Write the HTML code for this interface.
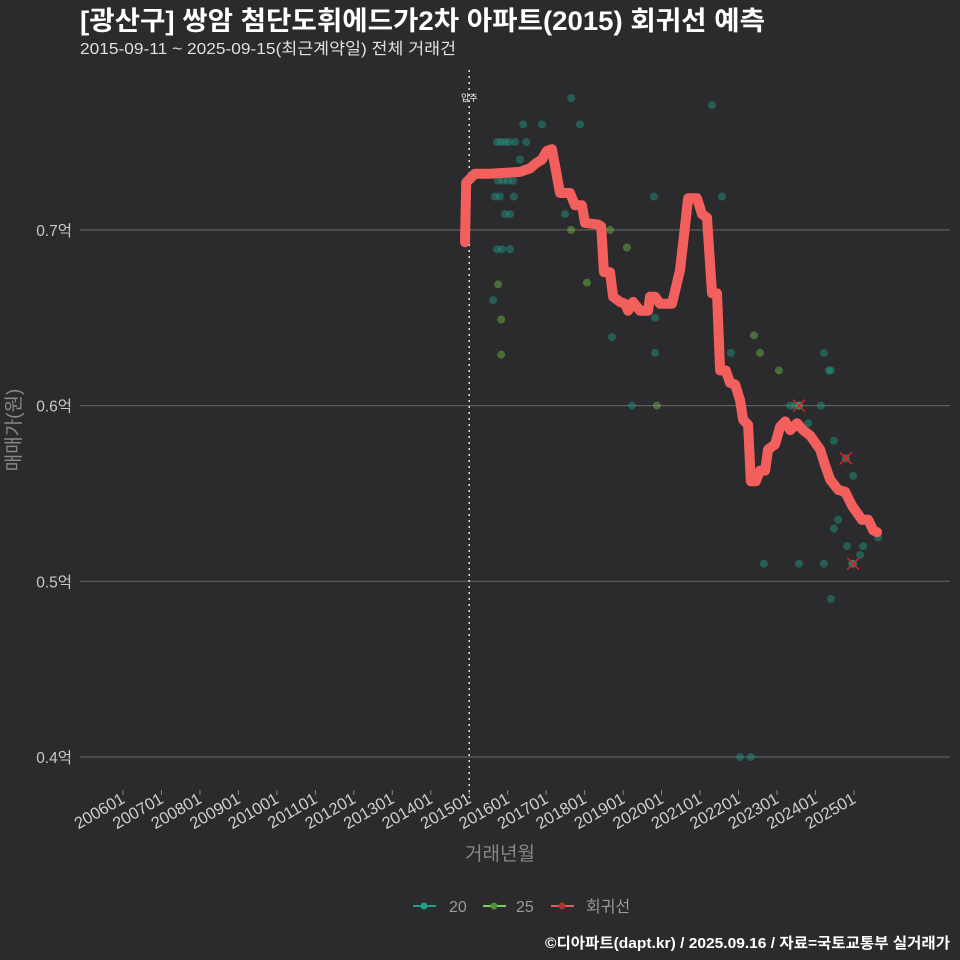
<!DOCTYPE html>
<html><head><meta charset="utf-8">
<style>
html,body{margin:0;padding:0;background:#2b2a2c;}
svg{display:block;font-family:"Liberation Sans","Noto Sans CJK KR",sans-serif;}
</style></head>
<body>
<svg id="chart" width="960" height="960" viewBox="0 0 960 960">
<rect width="960" height="960" fill="#2b2a2c"/>
<text x="80" y="30" fill="#ffffff" font-size="26.5" font-weight="bold" textLength="685" lengthAdjust="spacingAndGlyphs">[광산구] 쌍암 첨단도휘에드가2차 아파트(2015) 회귀선 예측</text>
<text x="80" y="54" fill="#e0e0e0" font-size="16" textLength="376" lengthAdjust="spacingAndGlyphs">2015-09-11 ~ 2025-09-15(최근계약일) 전체 거래건</text>
<g id="grid"></g>
<g id="xaxis"></g>
<g id="yaxis"></g>
<g id="marks"></g>
<text x="20" y="430" fill="#888" font-size="19" transform="rotate(-90 20 430)" text-anchor="middle">매매가(원)</text>
<text x="500" y="860" fill="#888" font-size="19" text-anchor="middle">거래년월</text>
<g>
<g><line x1="413" y1="906" x2="436" y2="906" stroke="#1f9e89" stroke-width="2"/><circle cx="424" cy="906" r="3.5" fill="#1f9e89"/><text x="449" y="912" fill="#999" font-size="16">20</text></g>
<g><line x1="483" y1="906" x2="506" y2="906" stroke="#7ad151" stroke-width="2"/><circle cx="494" cy="906" r="3.5" fill="#4f8f3f"/><text x="516" y="912" fill="#999" font-size="16">25</text></g>
<g><line x1="551" y1="906" x2="574" y2="906" stroke="#e65b5b" stroke-width="2"/><circle cx="562" cy="906" r="3.5" fill="#a33"/><text x="586" y="912" fill="#999" font-size="16">회귀선</text></g>
</g>
<text x="950" y="948" fill="#ffffff" font-size="15" font-weight="bold" text-anchor="end" textLength="405" lengthAdjust="spacingAndGlyphs">©디아파트(dapt.kr) / 2025.09.16 / 자료=국토교통부 실거래가</text>
</svg>
<script>
const xTickLabels=["200601","200701","200801","200901","201001","201101","201201","201301","201401","201501","201601","201701","201801","201901","202001","202101","202201","202301","202401","202501"];
const yTicks=[0.4,0.5,0.6,0.7];
const yTickLabels=["0.4억","0.5억","0.6억","0.7억"];
const lineYears=[2014.89,2014.92,2015.15,2015.54,2016.32,2016.58,2016.74,2016.89,2017.02,2017.15,2017.26,2017.36,2017.62,2017.75,2017.93,2018.01,2018.35,2018.43,2018.50,2018.66,2018.74,2018.92,2019.05,2019.13,2019.26,2019.44,2019.65,2019.70,2019.83,2019.96,2020.27,2020.48,2020.61,2020.69,2020.92,2021.05,2021.18,2021.31,2021.44,2021.52,2021.67,2021.78,2021.91,2022.04,2022.12,2022.25,2022.32,2022.45,2022.56,2022.69,2022.77,2022.95,2023.08,2023.21,2023.34,2023.52,2023.68,2023.86,2024.12,2024.25,2024.38,2024.59,2024.77,2024.95,2025.21,2025.37,2025.50,2025.60];
const lineValues=[.693,.727,.732,.732,.733,.735,.738,.740,.745,.746,.733,.721,.721,.714,.714,.704,.703,.702,.676,.676,.662,.659,.658,.654,.659,.654,.654,.662,.662,.658,.658,.677,.702,.718,.718,.709,.707,.664,.664,.620,.620,.613,.612,.603,.592,.589,.557,.557,.563,.563,.575,.578,.588,.591,.586,.590,.586,.583,.575,.566,.558,.552,.551,.543,.535,.535,.529,.528];
const s20Years=[2017.65,2016.40,2016.89,2017.88,2021.31,2015.72,2015.82,2015.93,2016.03,2016.19,2016.48,2016.32,2015.75,2015.88,2016.01,2016.14,2015.67,2015.80,2016.16,2019.80,2021.57,2015.93,2016.06,2017.49,2015.72,2015.85,2016.06,2018.71,2015.62,2019.83,2019.83,2019.23,2021.80,2024.22,2024.35,2024.40,2023.34,2023.47,2024.14,2023.81,2024.48,2024.98,2024.72,2024.59,2024.48,2024.82,2025.24,2025.16,2025.63,2022.66,2023.57,2024.22,2024.95,2024.40,2022.04,2022.32];
const s20Values=[.775,.760,.760,.760,.771,.750,.750,.750,.750,.750,.750,.740,.728,.728,.728,.728,.719,.719,.719,.719,.719,.709,.709,.709,.689,.689,.689,.639,.660,.650,.630,.600,.630,.630,.620,.620,.600,.600,.600,.590,.580,.560,.550,.535,.530,.520,.520,.515,.525,.510,.510,.510,.510,.490,.400,.400];
const s25Years=[2017.65,2015.75,2015.83,2015.83,2018.06,2019.10,2019.88,2022.40,2022.56,2023.05,2023.57,2018.66];
const s25Values=[.700,.669,.649,.629,.670,.690,.600,.640,.630,.620,.600,.700];
const outlierYears=[2023.57,2024.79,2024.98];
const outlierValues=[.600,.570,.510];
const moveInYear=2015.0;

const NS="http://www.w3.org/2000/svg";
const X0=123,PX_PER_YEAR=38.47,PLOT_L=80,PLOT_R=950;
function xScale(yr){return X0+(yr-2006)*PX_PER_YEAR;}
function yScale(v){return 757-(v-0.4)*1757;}
function mk(tag,attrs,parent){const e=document.createElementNS(NS,tag);for(const k in attrs)e.setAttribute(k,attrs[k]);parent.appendChild(e);return e;}
const grid=document.getElementById('grid'),xa=document.getElementById('xaxis'),ya=document.getElementById('yaxis'),marks=document.getElementById('marks');
yTicks.forEach((t,i)=>{
  const l=mk('line',{x1:PLOT_L,x2:PLOT_R,y1:yScale(t),y2:yScale(t),stroke:'#5e5e5e','stroke-width':1.2},grid);
  
  
  const tx=mk('text',{x:72,y:yScale(t)+6,fill:'#c8c8c8','font-size':15.5,'text-anchor':'end'},ya);
  tx.textContent=yTickLabels[i];
  
  
});
xTickLabels.forEach((lab,i)=>{
  const yr=parseInt(lab.slice(0,4))+(parseInt(lab.slice(4))-1)/12;
  const x=xScale(yr);
  const tk=mk('line',{x1:x,x2:x,y1:790,y2:795,stroke:'#888','stroke-width':1},xa);
  
  
  const tx=mk('text',{x:x+3,y:802,fill:'#cfcfcf','font-size':16.5,'text-anchor':'end',transform:`rotate(-30 ${x+3} 802)`},xa);
  tx.textContent=lab;
  
  
});
const mv=mk('line',{x1:xScale(moveInYear),x2:xScale(moveInYear),y1:70,y2:800,stroke:'#dddddd','stroke-width':1.5,'stroke-dasharray':'2 4'},marks);


const mvt=mk('text',{x:xScale(moveInYear),y:101,fill:'#fff','font-size':9,'text-anchor':'middle'},marks);
mvt.textContent='입주';


s20Years.forEach((yr,i)=>{
  const c=mk('circle',{cx:xScale(yr),cy:yScale(s20Values[i]),r:4,fill:'#1f9e89','fill-opacity':0.45},marks);
  
  
});
s25Years.forEach((yr,i)=>{
  const c=mk('circle',{cx:xScale(yr),cy:yScale(s25Values[i]),r:4,fill:'#7ad151','fill-opacity':0.4},marks);
  
  
});
const pts=lineYears.map((yr,i)=>xScale(yr).toFixed(1)+','+yScale(lineValues[i]).toFixed(1)).join(' ');
const pl=mk('polyline',{points:pts,fill:'none',stroke:'#f25f5c','stroke-width':10,'stroke-linejoin':'round','stroke-linecap':'round'},marks);


outlierYears.forEach((yr,i)=>{
  const x=xScale(yr),y=yScale(outlierValues[i]);
  const g=mk('g',{},marks);
  
  
  mk('circle',{cx:x,cy:y,r:4,fill:'#1f9e89','fill-opacity':0.6},g);
  mk('path',{d:`M${x-6},${y-6}L${x+6},${y+6}M${x-6},${y+6}L${x+6},${y-6}`,stroke:'#e02020','stroke-width':1.5},g);
});
</script>
</body></html>
